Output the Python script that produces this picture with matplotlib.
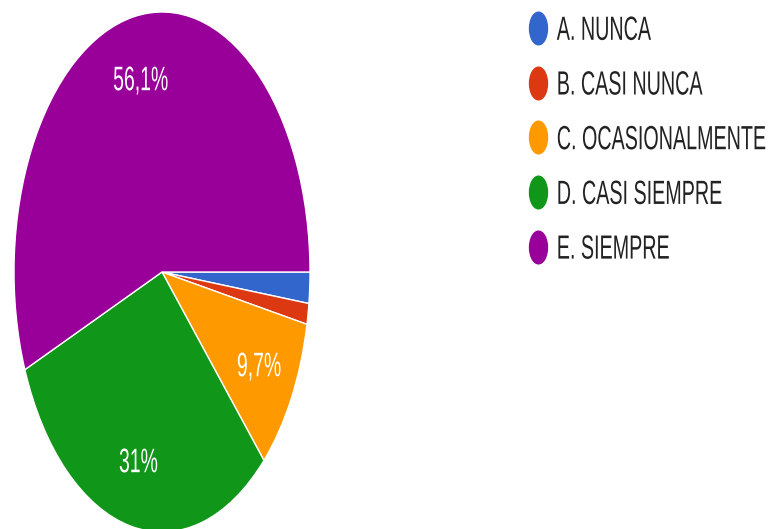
import matplotlib
matplotlib.use("Agg")
import matplotlib.pyplot as plt
from matplotlib import font_manager
from matplotlib.lines import Line2D
from matplotlib.path import Path
from matplotlib.transforms import Affine2D
from matplotlib.patheffects import AbstractPathEffect

categories = ["A. NUNCA", "B. CASI NUNCA", "C. OCASIONALMENTE", "D. CASI SIEMPRE", "E. SIEMPRE"]
counts = [3, 2, 15, 48, 87]
colors = ["#3366cc", "#dc3912", "#ff9900", "#109618", "#990099"]

names = {f.name for f in font_manager.fontManager.ttflist}
fam = [f for f in ["Liberation Sans", "DejaVu Sans"] if f in names]
plt.rcParams["font.family"] = fam


class Tall(AbstractPathEffect):
    """Stretch the glyphs vertically about mid cap height (tall, condensed look)."""

    def __init__(self, sy=1.7):
        super().__init__()
        self.sy = sy

    def draw_path(self, renderer, gc, tpath, affine, rgbFace=None):
        v = tpath.vertices
        y0 = v[:, 1].max() / 2 if len(v) else 0
        t = Affine2D().translate(0, -y0).scale(1, self.sy).translate(0, y0)
        renderer.draw_path(gc, tpath, t + affine, rgbFace)


W, H = 772, 529
fig = plt.figure(figsize=(W / 100, H / 100), dpi=100)
ax = fig.add_axes([14 / W, (H - 532) / H, 296 / W, 520 / H])


def fmt(p):
    if p < 5:
        return ""
    s = f"{p:.1f}".rstrip("0").rstrip(".")
    return s.replace(".", ",") + "%"


wedges, texts, autotexts = ax.pie(
    counts, colors=colors, startangle=0, counterclock=False,
    autopct=fmt, pctdistance=0.75,
    wedgeprops=dict(edgecolor="white", linewidth=1.0),
    textprops=dict(color="white", fontsize=14),
)
for t in autotexts:
    t.set_path_effects([Tall(1.75)])
ax.set_aspect("auto")
ax.set_xlim(-1, 1)
ax.set_ylim(-1, 1)
ax.axis("off")

ell = Path.unit_circle().transformed(Affine2D().scale(0.55, 1.0))
handles = [Line2D([], [], linestyle="none", marker=ell, markersize=23.5,
                  markerfacecolor=c, markeredgecolor=c) for c in colors]
leg = fig.legend(handles, categories, loc="upper left",
                 bbox_to_anchor=(528 / W, 1 - 20 / H), frameon=False,
                 fontsize=14.2, labelspacing=1.81, handlelength=1.0, handletextpad=0.46,
                 borderpad=0, borderaxespad=0, labelcolor="#222222")
for t in leg.get_texts():
    t.set_path_effects([Tall(1.7)])

fig.savefig("out.png", dpi=100)
